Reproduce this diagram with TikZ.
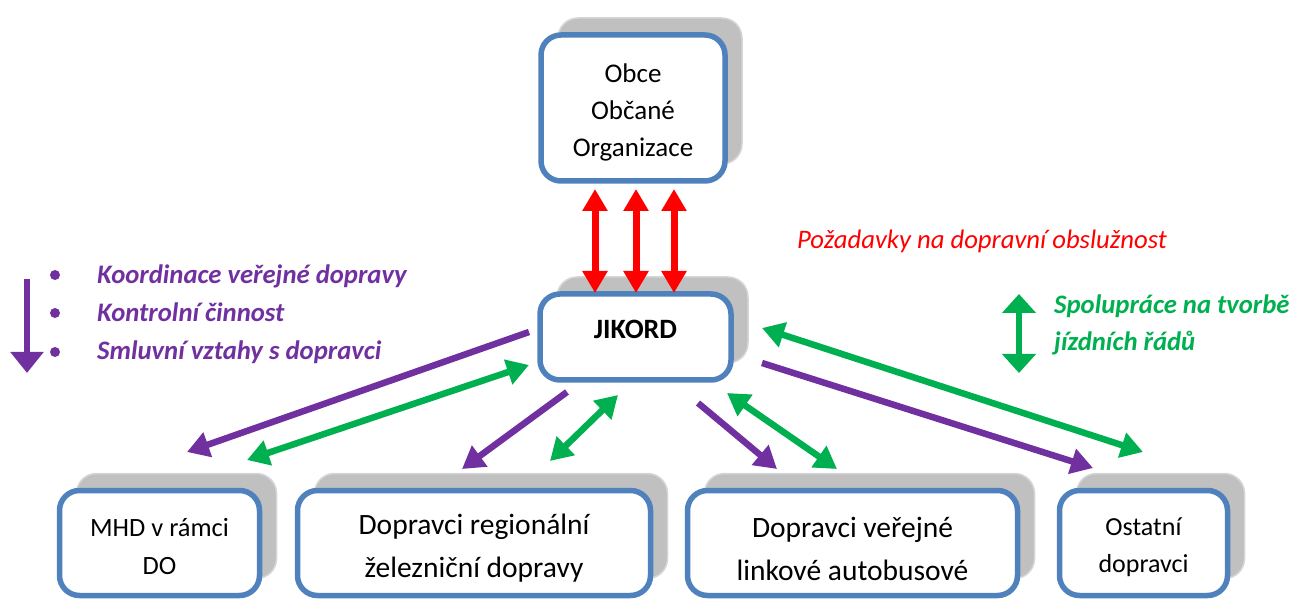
\documentclass[tikz,border=0pt]{standalone}
\usepackage{fontspec}
\setmainfont{Carlito}
\usetikzlibrary{arrows.meta,calc,shadows}
\definecolor{boxblue}{HTML}{4F81BD}
\definecolor{shgray}{HTML}{C0C0C0}
\definecolor{shedge}{HTML}{D6D6D6}
\definecolor{vpurple}{HTML}{7030A0}
\definecolor{vgreen}{HTML}{00B050}
\definecolor{vred}{HTML}{FF0000}
\tikzset{
  box/.style={draw=boxblue, line width=5.5pt, fill=white, rounded corners=20pt,
    outer sep=0pt, inner sep=0pt,
    drop shadow={shadow xshift=17pt, shadow yshift=17pt, fill=shgray, draw=shedge,
      line width=1.5pt, opacity=1}},
  boxtext/.style={inner sep=0pt, align=center},
  pa/.style={draw=vpurple, line width=6.5pt, -{Triangle[width=25pt,length=22pt]}},
  ga/.style={draw=vgreen, line width=6.5pt, {Triangle[width=25pt,length=22pt]}-{Triangle[width=25pt,length=22pt]}},
  ra/.style={draw=vred, line width=7pt, {Triangle[width=24pt,length=22pt]}-{Triangle[width=24pt,length=22pt]}},
  legtext/.style={anchor=base west, inner sep=0pt, font=\fontsize{26.7}{30}\selectfont\bfseries\itshape},
}
\begin{document}
\begin{tikzpicture}[x=1pt,y=-1pt]
\useasboundingbox (0,0) rectangle (1293,601);
% boxes
\node[box, minimum width=184pt, minimum height=146pt] (obce) at (633,108) {};
\node[boxtext, font=\fontsize{27}{37}\selectfont] (obcet) at ($(obce.center)+(0,4)$) {Obce\\Občané\\Organizace};
\node[box, minimum width=191pt, minimum height=86pt] (jik) at (635.5,337) {};
\node[boxtext, font=\fontsize{28}{32}\selectfont\bfseries] (jikt) at ($(jik.center)+(0,-8)$) {JIKORD};
\node[box, minimum width=200pt, minimum height=105pt] (mhd) at (159.5,543) {};
\node[boxtext, font=\fontsize{26.4}{38}\selectfont] (mhdt) at ($(mhd.center)+(0,4)$) {MHD v rámci\\DO};
\node[box, minimum width=353pt, minimum height=105pt] (reg) at (474,543) {};
\node[boxtext, font=\fontsize{29.5}{43}\selectfont] (regt) at ($(reg.center)+(0,5.5)$) {Dopravci regionální\\železniční dopravy};
\node[box, minimum width=330pt, minimum height=105pt] (bus) at (852.5,543) {};
\node[boxtext, font=\fontsize{29.5}{43}\selectfont] (bust) at ($(bus.center)+(0,5.5)$) {Dopravci veřejné\\linkové autobusové};
\node[box, minimum width=168pt, minimum height=105pt] (ost) at (1143.5,543) {};
\node[boxtext, font=\fontsize{26}{37}\selectfont] (ostt) at ($(ost.center)+(0,4)$) {Ostatní\\dopravci};
% red arrows
\draw[ra] ($(obce.south)+(-38,8)$) -- ($(jik.north)+(-40.5,-1)$);
\draw[ra] ($(obce.south)+(3,8)$) -- ($(jik.north)+(0.5,-1)$);
\draw[ra] ($(obce.south)+(41,8)$) -- ($(jik.north)+(38.5,-1)$);
% connectors
\draw[pa] ($(jik.west)+(-11,-5)$) -- ($(mhd.north)+(27.5,-38.5)$);
\draw[ga] ($(jik.west)+(-11,28)$) -- ($(mhd.north)+(87.5,-30.5)$);
\draw[pa] ($(jik.south)+(-68.5,12)$) -- ($(reg.north)+(-12,-21.5)$);
\draw[ga] ($(jik.south)+(-17.5,15)$) -- ($(reg.north)+(76,-29.5)$);
\draw[pa] ($(jik.south)+(62.5,23)$) -- ($(bus.north)+(-75.5,-21.5)$);
\draw[ga] ($(jik.south)+(91.5,13)$) -- ($(bus.north)+(-15.5,-21.5)$);
\draw[ga] ($(jik.east)+(31,-9)$) -- ($(ost.north)+(-0.5,-38.5)$);
\draw[pa] ($(jik.east)+(31,26)$) -- ($(ost.north)+(-50.5,-22.5)$);
% legend left
\draw[draw=vpurple, line width=6.5pt, -{Triangle[width=32pt,length=21pt]}] (27,279) -- (27,373);
\fill[vpurple] (55,275) circle (5);
\fill[vpurple] (55,313) circle (5);
\fill[vpurple] (55,352) circle (5);
\node[legtext, text=vpurple] (l1) at (97,284) {Koordinace veřejné dopravy};
\node[legtext, text=vpurple] (l2) at (97,322) {Kontrolní činnost};
\node[legtext, text=vpurple] (l3) at (97,360) {Smluvní vztahy s dopravci};
% red label
\node[anchor=base west, inner sep=0pt, text=vred, font=\fontsize{26.7}{30}\selectfont\itshape]
  (req) at (797,249) {Požadavky na dopravní obslužnost};
% green legend
\draw[draw=vgreen, line width=6.5pt, {Triangle[width=33pt,length=19pt]}-{Triangle[width=33pt,length=19pt]}] (1019,294) -- (1019,373);
\node[legtext, text=vgreen] (g1) at (1054,314) {Spolupráce na tvorbě};
\node[legtext, text=vgreen] (g2) at (1054,351) {jízdních řádů};
\end{tikzpicture}
\end{document}
